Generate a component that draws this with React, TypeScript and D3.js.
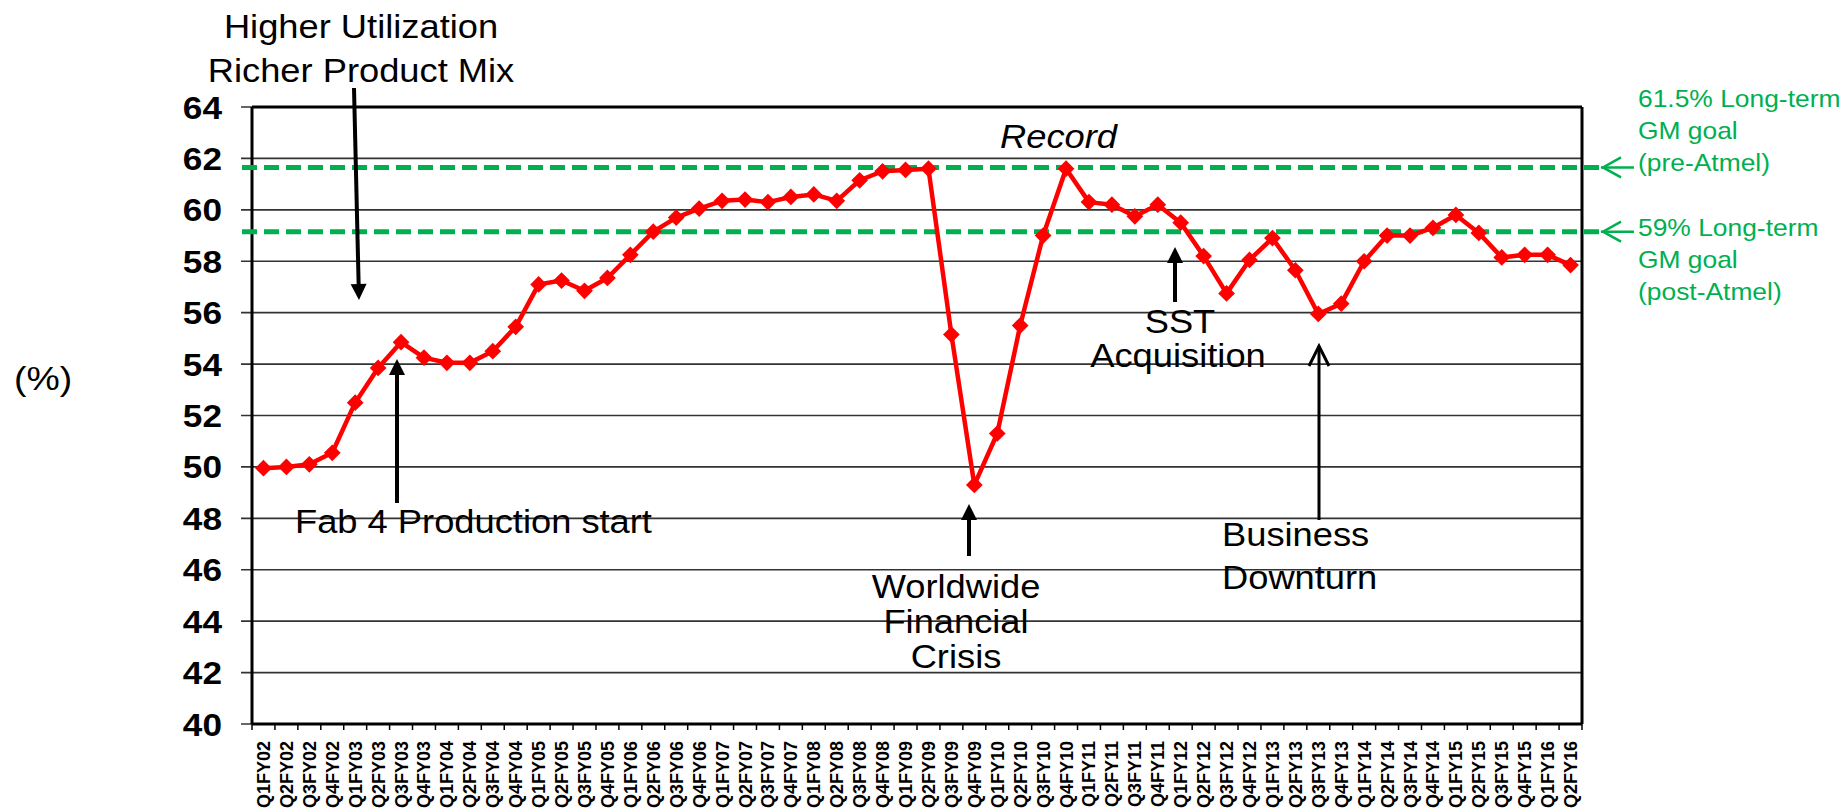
import React from 'react';
import * as d3 from 'd3';

const quarters = [
  'Q1FY02', 'Q2FY02', 'Q3FY02', 'Q4FY02', 'Q1FY03', 'Q2FY03', 'Q3FY03', 'Q4FY03',
  'Q1FY04', 'Q2FY04', 'Q3FY04', 'Q4FY04', 'Q1FY05', 'Q2FY05', 'Q3FY05', 'Q4FY05',
  'Q1FY06', 'Q2FY06', 'Q3FY06', 'Q4FY06', 'Q1FY07', 'Q2FY07', 'Q3FY07', 'Q4FY07',
  'Q1FY08', 'Q2FY08', 'Q3FY08', 'Q4FY08', 'Q1FY09', 'Q2FY09', 'Q3FY09', 'Q4FY09',
  'Q1FY10', 'Q2FY10', 'Q3FY10', 'Q4FY10', 'Q1FY11', 'Q2FY11', 'Q3FY11', 'Q4FY11',
  'Q1FY12', 'Q2FY12', 'Q3FY12', 'Q4FY12', 'Q1FY13', 'Q2FY13', 'Q3FY13', 'Q4FY13',
  'Q1FY14', 'Q2FY14', 'Q3FY14', 'Q4FY14', 'Q1FY15', 'Q2FY15', 'Q3FY15', 'Q4FY15',
  'Q1FY16', 'Q2FY16'
];

const grossMargin = [
  49.95, 50.0, 50.1, 50.55, 52.5, 53.85, 54.85, 54.25,
  54.05, 54.05, 54.5, 55.45, 57.1, 57.25, 56.85, 57.35,
  58.25, 59.15, 59.7, 60.05, 60.35, 60.4, 60.3, 60.5,
  60.6, 60.35, 61.15, 61.5, 61.55, 61.6, 55.15, 49.3,
  51.3, 55.5, 59.0, 61.6, 60.3, 60.2, 59.75, 60.2,
  59.5, 58.2, 56.75, 58.05, 58.9, 57.65, 55.95, 56.35,
  58.0, 59.0, 59.0, 59.3, 59.8, 59.1, 58.15, 58.25,
  58.25, 57.85
];

const yTicks = [40, 42, 44, 46, 48, 50, 52, 54, 56, 58, 60, 62, 64];

// goal lines (drawn where the picture puts them)
const goalValues = [61.65, 59.15];
const goalLabels = [
  ['61.5% Long-term', 'GM goal', '(pre-Atmel)'],
  ['59% Long-term', 'GM goal', '(post-Atmel)']
];
// which label line sits next to the arrow
const goalArrowLine = [2, 0];

const FONT = '"Liberation Sans", Arial, sans-serif';
const GREEN = '#00B050';
const SX = 1.1;

function T({ x, y, children, anchor = 'start', size = 33, weight = 'normal', italic = false, fill = '#000' }) {
  return (
    <text
      transform={`translate(${x},${y}) scale(${SX},1)`}
      textAnchor={anchor}
      fontFamily={FONT}
      fontSize={size}
      fontWeight={weight}
      fontStyle={italic ? 'italic' : 'normal'}
      fill={fill}
    >
      {children}
    </text>
  );
}

function Arrow({ x1, y1, x2, y2, open = false, w = 4 }) {
  // arrow from (x1,y1) to tip (x2,y2)
  const ang = Math.atan2(y2 - y1, x2 - x1);
  const len = open ? 20 : 16;
  const half = open ? 10 : 8;
  const bx = x2 - len * Math.cos(ang);
  const by = y2 - len * Math.sin(ang);
  const px = -Math.sin(ang) * half;
  const py = Math.cos(ang) * half;
  if (open) {
    return (
      <g stroke="#000" strokeWidth={w} fill="none">
        <line x1={x1} y1={y1} x2={x2} y2={y2} />
        <polyline points={`${bx + px},${by + py} ${x2},${y2} ${bx - px},${by - py}`} />
      </g>
    );
  }
  return (
    <g>
      <line x1={x1} y1={y1} x2={bx} y2={by} stroke="#000" strokeWidth={w} />
      <polygon points={`${bx + px},${by + py} ${x2},${y2} ${bx - px},${by - py}`} fill="#000" />
    </g>
  );
}

export default function App() {
  const left = 252;
  const right = 1582;
  const top = 107;
  const bottom = 724;

  const x = d3.scaleBand().domain(quarters).range([left, right]).padding(0);
  const y = d3.scaleLinear().domain([40, 64]).range([bottom, top]);
  const cx = (q) => x(q) + x.bandwidth() / 2;

  const line = d3
    .line()
    .x((d, i) => cx(quarters[i]))
    .y((d) => y(d));

  const diamond = d3.symbol().type(d3.symbolSquare).size(140)();

  return (
    <svg width={1845} height={810} style={{ position: 'absolute', left: 0, top: 0, background: '#fff' }}>
      {/* gridlines + y ticks */}
      {yTicks.map((t) => (
        <g key={t}>
          <line x1={left - 11} x2={right} y1={y(t)} y2={y(t)} stroke="#333" strokeWidth={1.6} />
          <text
            transform={`translate(222,${y(t) + 11.5}) scale(${SX},1)`}
            textAnchor="end"
            fontFamily={FONT}
            fontSize={32}
            fontWeight="bold"
          >
            {t}
          </text>
        </g>
      ))}

      {/* frame */}
      <line x1={left} x2={right} y1={top} y2={top} stroke="#000" strokeWidth={3} />
      <line x1={left} x2={left} y1={top} y2={bottom} stroke="#000" strokeWidth={3} />
      <line x1={right} x2={right} y1={top} y2={bottom} stroke="#000" strokeWidth={3} />
      <line x1={left} x2={right} y1={bottom} y2={bottom} stroke="#000" strokeWidth={3} />

      {/* x ticks + labels */}
      {quarters.map((q) => (
        <line key={'t' + q} x1={x(q)} x2={x(q)} y1={bottom} y2={bottom + 6} stroke="#000" strokeWidth={1.5} />
      ))}
      <line x1={right} x2={right} y1={bottom} y2={bottom + 6} stroke="#000" strokeWidth={1.5} />
      {quarters.map((q) => (
        <text
          key={'l' + q}
          transform={`translate(${cx(q) + 6.5},741) rotate(-90)`}
          textAnchor="end"
          fontFamily={FONT}
          fontSize={18}
          fontWeight="bold"
        >
          {q}
        </text>
      ))}

      {/* (%) */}
      <T x={14} y={390} size={34}>(%)</T>

      {/* goal lines */}
      {goalValues.map((g, i) => (
        <g key={'g' + i}>
          <line x1={242} x2={1602} y1={y(g)} y2={y(g)} stroke={GREEN} strokeWidth={5} strokeDasharray="15 7" />
          <line x1={1601} x2={1634} y1={y(g)} y2={y(g)} stroke={GREEN} strokeWidth={2.5} />
          <polyline
            points={`${1621},${y(g) - 10} ${1603},${y(g)} ${1621},${y(g) + 10}`}
            fill="none"
            stroke={GREEN}
            strokeWidth={2.5}
          />
          {goalLabels[i].map((s, k) => (
            <T key={s} x={1638} y={y(g) + 4 + (k - goalArrowLine[i]) * 32} size={24} fill={GREEN}>
              {s}
            </T>
          ))}
        </g>
      ))}

      {/* series */}
      <path d={line(grossMargin)} fill="none" stroke="#FF0000" strokeWidth={4.5} strokeLinejoin="round" />
      {grossMargin.map((v, i) => (
        <path
          key={'m' + i}
          d={diamond}
          transform={`translate(${cx(quarters[i])},${y(v)}) rotate(45)`}
          fill="#FF0000"
        />
      ))}

      {/* annotations */}
      <T x={361} y={38} anchor="middle">Higher Utilization</T>
      <T x={361} y={82} anchor="middle">Richer Product Mix</T>
      <Arrow x1={354} y1={88} x2={359} y2={300} />

      <Arrow x1={397} y1={503} x2={397} y2={359} />
      <T x={295} y={533}>Fab 4 Production start</T>

      <T x={1000} y={148} italic>Record</T>

      <Arrow x1={969} y1={556} x2={969} y2={504} />
      <T x={956} y={598} anchor="middle">Worldwide</T>
      <T x={956} y={633} anchor="middle">Financial</T>
      <T x={956} y={668} anchor="middle">Crisis</T>

      <Arrow x1={1175} y1={302} x2={1175} y2={247} />
      <T x={1180} y={333} anchor="middle">SST</T>
      <T x={1178} y={367} anchor="middle">Acquisition</T>

      <Arrow x1={1319} y1={520} x2={1319} y2={346} open w={3} />
      <T x={1222} y={546}>Business</T>
      <T x={1222} y={589}>Downturn</T>
    </svg>
  );
}
